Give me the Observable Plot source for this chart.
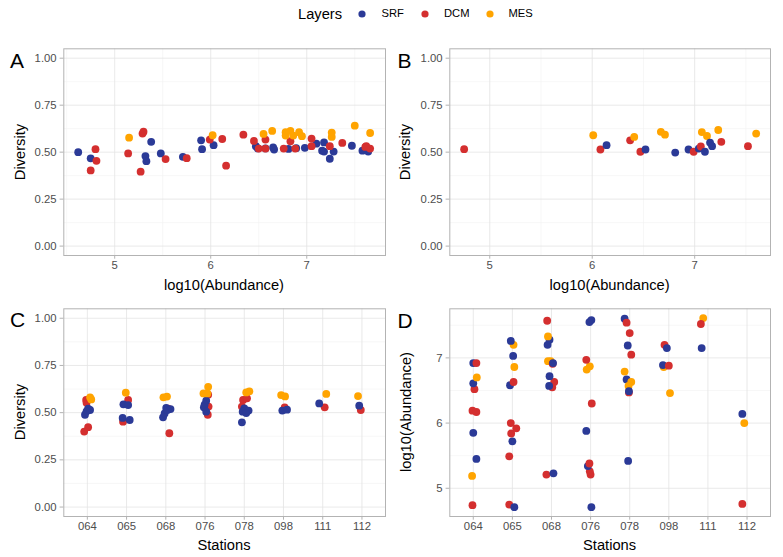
<!DOCTYPE html>
<html><head><meta charset="utf-8">
<script src="https://cdn.jsdelivr.net/npm/d3@7"></script>
<script src="https://cdn.jsdelivr.net/npm/@observablehq/plot@0.6"></script>
<style>
body{margin:0;background:#fff;font-family:"Liberation Sans",Arial,sans-serif;}
#root{position:relative;width:783px;height:557px;overflow:hidden;background:#fff;}
.abs{position:absolute;white-space:nowrap;line-height:1;}
.plot{position:absolute;}
.title{font-size:14.7px;color:#000;transform:translate(-50%,-50%);}
.ytitle{font-size:14.7px;color:#000;transform:translate(-50%,-50%) rotate(-90deg);}
.tag{font-size:21px;color:#000;transform:translate(0,-50%);}
.leg{font-size:11.2px;color:#000;transform:translate(0,-50%);}
</style></head><body><div id="root"></div>
<script>
// ---------- categories ----------
const layers = ["SRF", "DCM", "MES"];
const layerColors = ["#2b3a97", "#d42f2f", "#ffa400"];
const stations = ["064", "065", "068", "076", "078", "098", "111", "112"];
const diversityTicks = [0, 0.25, 0.5, 0.75, 1];
const abundanceTicksX = [5, 6, 7];
const abundanceTicksY = [5, 6, 7];

// ---------- Panel A: Diversity vs log10(Abundance) ----------
const aLayer = [
  "SRF","SRF","SRF","SRF","SRF","SRF","SRF","SRF","SRF","SRF","SRF","SRF","SRF","SRF","SRF","SRF","SRF","SRF","SRF","SRF","SRF","SRF","SRF","SRF","SRF","SRF","SRF",
  "DCM","DCM","DCM","DCM","DCM","DCM","DCM","DCM","DCM","DCM","DCM","DCM","DCM","DCM","DCM","DCM","DCM","DCM","DCM","DCM","DCM","DCM","DCM","DCM","DCM","DCM","DCM",
  "MES","MES","MES","MES","MES","MES","MES","MES","MES","MES","MES","MES","MES","MES"];
const aAbundance = [
  4.62,4.75,5.38,5.32,5.33,5.48,5.71,5.90,5.91,6.03,6.47,6.49,6.57,6.65,6.66,6.81,6.89,6.98,7.10,7.16,7.18,7.18,7.24,7.28,7.47,7.58,7.64,
  4.80,4.81,4.75,5.14,5.29,5.30,5.27,5.53,5.75,5.99,6.12,6.16,6.34,6.45,6.50,6.57,6.57,6.76,6.83,6.88,7.05,7.05,7.24,7.37,7.61,7.66,7.62,
  5.15,6.02,6.55,6.64,6.78,6.78,6.83,6.86,6.92,6.95,7.26,7.26,7.50,7.66];
const aDiversity = [
  0.500,0.467,0.555,0.479,0.452,0.493,0.475,0.563,0.516,0.537,0.532,0.520,0.520,0.525,0.514,0.517,0.521,0.523,0.545,0.508,0.552,0.503,0.465,0.503,0.534,0.508,0.503,
  0.516,0.454,0.403,0.493,0.599,0.609,0.396,0.463,0.468,0.567,0.570,0.428,0.593,0.560,0.519,0.567,0.519,0.519,0.558,0.519,0.572,0.532,0.532,0.549,0.528,0.519,0.532,
  0.577,0.590,0.597,0.613,0.606,0.588,0.613,0.588,0.606,0.585,0.604,0.581,0.641,0.602];

// ---------- Panel B: Diversity vs log10(Abundance) ----------
const bLayer = ["DCM","MES","DCM","SRF","DCM","MES","DCM","SRF","MES","MES","SRF","SRF","DCM","SRF","DCM","MES","SRF","MES","SRF","SRF","MES","DCM","DCM","MES"];
const bAbundance = [4.75,6.01,6.08,6.14,6.37,6.41,6.47,6.52,6.67,6.71,6.81,6.94,6.99,7.04,7.06,7.07,7.10,7.12,7.15,7.17,7.23,7.26,7.52,7.60];
const bDiversity = [0.516,0.590,0.514,0.537,0.563,0.581,0.502,0.514,0.608,0.593,0.498,0.514,0.502,0.519,0.530,0.607,0.502,0.586,0.551,0.532,0.618,0.555,0.532,0.599];

// ---------- Panel C: Diversity by station (jittered) ----------
const cStation = [
  "064","064","064","064","064","064","064","064","064","064",
  "065","065","065","065","065","065","065",
  "068","068","068","068","068","068","068","068","068",
  "076","076","076","076","076","076","076","076","076","076",
  "078","078","078","078","078","078","078","078","078","078",
  "098","098","098","098","098",
  "111","111","111",
  "112","112","112"];
const cLayer = [
  "DCM","DCM","DCM","DCM","SRF","SRF","SRF","SRF","MES","MES",
  "DCM","DCM","SRF","SRF","SRF","SRF","MES",
  "DCM","DCM","SRF","SRF","SRF","SRF","SRF","MES","MES",
  "DCM","DCM","DCM","SRF","SRF","SRF","SRF","MES","MES","MES",
  "DCM","DCM","DCM","SRF","SRF","SRF","SRF","SRF","MES","MES",
  "DCM","SRF","SRF","MES","MES",
  "DCM","SRF","MES",
  "DCM","SRF","MES"];
const cJitter = [
  -0.03,-0.02,0.02,-0.08,0.02,0.07,-0.02,-0.06,0.07,0.10,
  0.04,-0.09,-0.08,0.04,-0.10,0.08,-0.02,
  0.09,0.06,-0.07,-0.03,0.01,0.12,0.04,-0.06,0.03,
  0.08,0.09,0.07,0.03,-0.01,-0.03,0.03,0.08,-0.04,0.06,
  -0.03,0.07,-0.06,0.00,-0.04,0.11,0.05,-0.06,0.05,0.13,
  0.03,-0.03,0.09,-0.06,0.04,
  0.05,-0.09,0.09,
  -0.03,-0.07,-0.10];
const cDiversity = [
  0.567,0.553,0.423,0.400,0.521,0.514,0.507,0.489,0.581,0.570,
  0.567,0.452,0.544,0.540,0.472,0.461,0.606,
  0.391,0.521,0.475,0.496,0.525,0.519,0.514,0.581,0.585,
  0.595,0.532,0.489,0.563,0.542,0.528,0.505,0.637,0.602,0.602,
  0.567,0.576,0.532,0.523,0.505,0.511,0.498,0.449,0.607,0.613,
  0.528,0.511,0.516,0.593,0.586,
  0.528,0.549,0.599,
  0.514,0.537,0.588];

// ---------- Panel D: log10(Abundance) by station (jittered) ----------
const dStation = [
  "064","064","064","064","064","064","064","064","064","064","064",
  "065","065","065","065","065","065","065","065","065","065","065","065","065",
  "068","068","068","068","068","068","068","068","068","068","068","068","068","068",
  "076","076","076","076","076","076","076","076","076","076","076","076",
  "078","078","078","078","078","078","078","078","078","078","078","078",
  "098","098","098","098","098","098",
  "111","111","111",
  "112","112","112"];
const dLayer = [
  "DCM","MES","SRF","SRF","DCM","DCM","DCM","SRF","MES","SRF","DCM",
  "DCM","SRF","DCM","SRF","DCM","DCM","DCM","SRF","DCM","MES","SRF","MES","SRF",
  "DCM","SRF","DCM","DCM","SRF","SRF","MES","MES","DCM","SRF","SRF","SRF","MES","DCM",
  "SRF","DCM","DCM","SRF","DCM","SRF","DCM","MES","MES","DCM","SRF","SRF",
  "SRF","DCM","DCM","SRF","DCM","MES","SRF","MES","MES","DCM","SRF","SRF",
  "DCM","SRF","MES","SRF","DCM","MES",
  "MES","DCM","SRF",
  "SRF","MES","DCM"];
const dJitter = [
  -0.02,-0.03,0.08,0.00,-0.02,0.08,0.03,0.00,0.09,0.00,0.08,
  -0.08,0.05,-0.08,0.00,-0.03,0.10,-0.04,-0.06,0.03,0.05,0.02,0.03,-0.04,
  -0.13,0.05,0.02,0.07,-0.06,-0.05,-0.09,-0.02,0.03,0.04,-0.10,-0.05,-0.09,-0.11,
  0.02,0.00,-0.02,-0.07,-0.03,-0.11,0.03,-0.10,-0.02,-0.11,0.02,-0.03,
  -0.13,-0.08,0.00,-0.05,0.04,-0.13,-0.08,0.04,-0.03,-0.02,-0.02,-0.04,
  -0.11,-0.05,-0.13,-0.15,0.00,0.03,
  -0.12,-0.18,-0.16,
  -0.12,-0.07,-0.12];
const dAbundance = [
  4.74,5.19,5.45,5.85,6.19,6.17,6.52,6.61,6.70,6.92,6.92,
  4.75,4.71,5.49,5.72,5.84,5.92,6.00,6.58,6.63,6.86,7.03,7.20,7.26,
  5.21,5.23,6.55,6.63,6.57,6.72,6.95,6.95,6.91,6.92,7.20,7.28,7.33,7.57,
  4.71,5.21,5.26,5.34,5.38,5.88,6.30,6.82,6.87,6.97,7.58,7.55,
  7.60,7.54,7.38,7.19,7.05,6.79,6.67,6.63,6.57,6.47,6.49,5.42,
  7.20,7.15,6.86,6.89,6.88,6.46,
  7.61,7.52,7.15,
  6.14,6.00,4.76];

// ---------- tables built from arrays ----------
const tableA = aLayer.map((l, i) => ({layer: l, x: aAbundance[i], y: aDiversity[i]}));
const tableB = bLayer.map((l, i) => ({layer: l, x: bAbundance[i], y: bDiversity[i]}));
const tableC = cLayer.map((l, i) => ({layer: l, x: stations.indexOf(cStation[i]) + cJitter[i], y: cDiversity[i]}));
const tableD = dLayer.map((l, i) => ({layer: l, x: stations.indexOf(dStation[i]) + dJitter[i], y: dAbundance[i]}));

// ---------- layout ----------
const root = document.getElementById("root");
const GRID = "#e3e3e3", MINOR = "#f1f1f1", BORDER = "#b3b3b3", TICKTXT = "#4d4d4d";

function panel({data, xDomain, yDomain, xTicks, yTicks, xFormat, yFormat, xMinor, yMinor, left, top, width, height, margins}) {
  const marks = [];
  if (xMinor.length) marks.push(Plot.gridX({ticks: xMinor, stroke: MINOR, strokeOpacity: 1, strokeWidth: 0.6}));
  if (yMinor.length) marks.push(Plot.gridY({ticks: yMinor, stroke: MINOR, strokeOpacity: 1, strokeWidth: 0.6}));
  marks.push(Plot.gridX({ticks: xTicks, stroke: GRID, strokeOpacity: 1, strokeWidth: 0.8}));
  marks.push(Plot.gridY({ticks: yTicks, stroke: GRID, strokeOpacity: 1, strokeWidth: 0.8}));
  marks.push(Plot.dot(data, {x: "x", y: "y", fill: "layer", r: 3.9, stroke: "none"}));
  marks.push(Plot.frame({stroke: BORDER, strokeWidth: 1}));
  marks.push(Plot.axisX({ticks: xTicks, tickFormat: xFormat, tickSize: 3.7, tickPadding: 2, color: TICKTXT, stroke: BORDER, label: null, fontSize: 11.3}));
  marks.push(Plot.axisY({ticks: yTicks, tickFormat: yFormat, tickSize: 3.7, tickPadding: 3.5, color: TICKTXT, stroke: BORDER, label: null, fontSize: 11.3}));
  const svg = Plot.plot({
    width, height,
    marginLeft: margins[0], marginRight: margins[1], marginTop: margins[2], marginBottom: margins[3],
    x: {domain: xDomain, label: null},
    y: {domain: yDomain, label: null},
    color: {domain: layers, range: layerColors},
    style: {fontFamily: "Liberation Sans, Arial, sans-serif", fontSize: "11.3px", color: TICKTXT, background: "transparent", overflow: "visible"},
    marks
  });
  svg.classList.add("plot");
  svg.style.left = left + "px";
  svg.style.top = top + "px";
  root.appendChild(svg);
}

const fmt2 = d3.format(".2f");
const fmtInt = d => String(d);
const fmtStation = i => stations[i];

const L = {left: 0, width: 392, ml: 63.3, mr: 7};
const R = {left: 392, width: 391, ml: 57.3, mr: 13};
const T = {top: 30, height: 266, mt: 18.3, mb: 41};
const B = {top: 296, height: 261, mt: 12.3, mb: 41};

panel({data: tableA, xDomain: [4.47, 7.82], yDomain: [-0.05, 1.05], xTicks: abundanceTicksX, yTicks: diversityTicks,
  xFormat: fmtInt, yFormat: fmt2, xMinor: [4.5, 5.5, 6.5, 7.5], yMinor: [0.125, 0.375, 0.625, 0.875],
  left: L.left, top: T.top, width: L.width, height: T.height, margins: [L.ml, L.mr, T.mt, T.mb]});
panel({data: tableB, xDomain: [4.61, 7.74], yDomain: [-0.05, 1.05], xTicks: abundanceTicksX, yTicks: diversityTicks,
  xFormat: fmtInt, yFormat: fmt2, xMinor: [5.5, 6.5, 7.5], yMinor: [0.125, 0.375, 0.625, 0.875],
  left: R.left, top: T.top, width: R.width, height: T.height, margins: [R.ml, R.mr, T.mt, T.mb]});
panel({data: tableC, xDomain: [-0.6, 7.6], yDomain: [-0.05, 1.05], xTicks: d3.range(stations.length), yTicks: diversityTicks,
  xFormat: fmtStation, yFormat: fmt2, xMinor: [], yMinor: [0.125, 0.375, 0.625, 0.875],
  left: L.left, top: B.top, width: L.width, height: B.height, margins: [L.ml, L.mr, B.mt, B.mb]});
panel({data: tableD, xDomain: [-0.6, 7.6], yDomain: [4.567, 7.753], xTicks: d3.range(stations.length), yTicks: abundanceTicksY,
  xFormat: fmtStation, yFormat: fmtInt, xMinor: [], yMinor: [5.5, 6.5, 7.5],
  left: R.left, top: B.top, width: R.width, height: B.height, margins: [R.ml, R.mr, B.mt, B.mb]});

// ---------- text: tags, titles, legend ----------
function addText(txt, cls, x, y) {
  const d = document.createElement("div");
  d.className = "abs " + cls;
  d.textContent = txt;
  d.style.left = x + "px";
  d.style.top = y + "px";
  root.appendChild(d);
}
addText("A", "tag", 10, 60);
addText("B", "tag", 397.5, 60);
addText("C", "tag", 10, 318.5);
addText("D", "tag", 397.5, 319.5);

addText("Diversity", "ytitle", 20, 151.7);
addText("Diversity", "ytitle", 405, 151.7);
addText("Diversity", "ytitle", 20, 412);
addText("log10(Abundance)", "ytitle", 406, 412);

addText("log10(Abundance)", "title", 224, 285);
addText("log10(Abundance)", "title", 609.6, 285);
addText("Stations", "title", 224, 545);
addText("Stations", "title", 609.6, 545);

addText("Layers", "leg", 298, 14);
root.lastChild.style.fontSize = "14.7px";
const legX = [361.7, 424.7, 490];
const legLabelX = [381.5, 444, 508.5];
layers.forEach((l, i) => {
  const s = document.createElementNS("http://www.w3.org/2000/svg", "svg");
  s.setAttribute("width", 10); s.setAttribute("height", 10);
  s.style.position = "absolute";
  s.style.left = (legX[i] - 5) + "px"; s.style.top = (14 - 5) + "px";
  const c = document.createElementNS("http://www.w3.org/2000/svg", "circle");
  c.setAttribute("cx", 5); c.setAttribute("cy", 5); c.setAttribute("r", 3.6);
  c.setAttribute("fill", layerColors[i]);
  s.appendChild(c);
  root.appendChild(s);
  addText(l, "leg", legLabelX[i], 14);
});
</script></body></html>
